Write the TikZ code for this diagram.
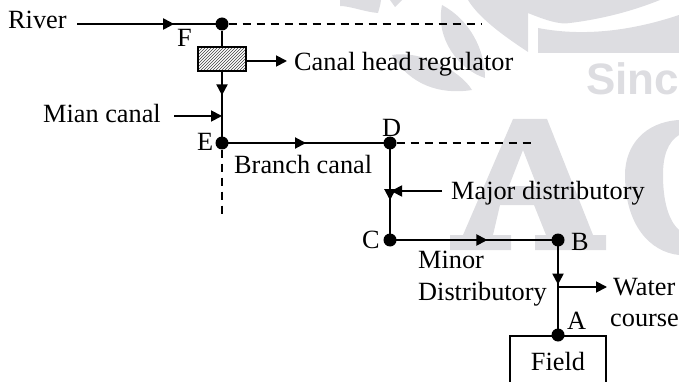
\documentclass[tikz,border=0pt]{standalone}
\usepackage{fontspec}
\setmainfont{Liberation Serif}
\newfontfamily\wmfont{Liberation Sans}
\usetikzlibrary{arrows.meta,decorations.markings,patterns}
\definecolor{wm}{HTML}{DDDDE1}
\tikzset{
  x=1pt,y=-1pt,
  lab/.style={anchor=base west,inner sep=0pt,font=\fontsize{26.3}{30}\selectfont},
  dotn/.style={circle,fill=black,inner sep=0pt,minimum size=13pt},
  line/.style={line width=2pt},
  dashline/.style={line width=1.6pt,dash pattern=on 8pt off 6pt},
  tip/.style={line width=1.8pt,-{Triangle[length=11pt,width=11pt]}},
  midtip/.style={line width=2pt,postaction=decorate,decoration={markings,mark=at position #1 with {\arrow{Triangle[length=11pt,width=11pt]}}}},
  boxn/.style={draw,line width=1.8pt,inner sep=0pt}
}
\begin{document}
\begin{tikzpicture}
\useasboundingbox (0,0) rectangle (679,382);
% watermark
\fill[wm] (340,0) -- (381,0) .. controls (380,8) and (378,12) .. (378,13) .. controls (365,12) and (350,6) .. (340,6) -- cycle;
\fill[wm] (390,0) -- (402,0) -- (395,7) -- cycle;
\fill[wm] (468,0) .. controls (480,20) and (510,40) .. (528,52) -- (528,13) .. controls (545,20) and (560,25) .. (570,23) .. controls (610,18) and (640,8) .. (660,0) -- cycle;
\fill[wm] (538,28) .. controls (590,38) and (640,28) .. (679,15) -- (679,53) -- (538,53) -- cycle;
\fill[wm] (442,5) .. controls (470,20) and (485,50) .. (485,78) .. controls (460,70) and (435,40) .. (442,5) -- cycle;
\fill[wm] (392,55) .. controls (420,50) and (460,70) .. (472,90) .. controls (440,95) and (410,85) .. (392,55) -- cycle;
\node[anchor=base west,inner sep=0pt,text=wm,font=\fontsize{44}{44}\selectfont\wmfont\bfseries] (since) at (586,95) {Sinc};
\fill[wm,even odd rule] (513,119) -- (547,119) -- (593,235) -- (606,235) -- (606,250) -- (535,250) -- (535,235) -- (546,235) -- (534,205) -- (500,205) -- (493,235) -- (511,235) -- (511,250) -- (450,250) -- (450,235) -- (463,235) -- cycle
  (523,150) -- (509,186) -- (537,186) -- cycle;
\fill[wm] (679,120) .. controls (645,122) and (625,145) .. (625,175) .. controls (625,225) and (650,252) .. (679,255) -- (679,230) .. controls (668,220) and (663,200) .. (663,175) .. controls (663,155) and (668,142) .. (679,135) -- cycle;
% nodes
\node[dotn] (F) at (222,24) {};
\node[dotn] (E) at (222,143) {};
\node[dotn] (D) at (390,143) {};
\node[dotn] (C) at (390,240) {};
\node[dotn] (B) at (558,240) {};
\node[dotn] (A) at (558,335) {};
\node[boxn,pattern=north east lines,pattern color=black!75,minimum width=48pt,minimum height=24pt] (reg) at (222,59) {};
\node[boxn,minimum width=96pt,minimum height=60pt,anchor=north] (field) at (558,335) {};
\node[lab,anchor=base] (fieldt) at (558,370) {Field};
\coordinate (riverS) at (77,24);
\coordinate (fd) at (481,24);
\coordinate (dd) at (535,143);
\coordinate (ed) at (222,216);
\coordinate (rt) at (287,61);
\coordinate (mc) at (174,116);
\coordinate (mce) at (222,116);
\coordinate (mj) at (442,191);
\coordinate (mje) at (391,191);
\coordinate (wcS) at (558,287);
\coordinate (wcE) at (607,287);
% connectors
\draw[midtip=0.67] (riverS) -- (F.center);
\draw[line] (F) -- (reg);
\draw[midtip=0.33] (reg.south) -- (E.center);
\draw[midtip=0.5] (E.center) -- (D.center);
\draw[midtip=0.59] (D.center) -- (C.center);
\draw[midtip=0.58] (C.center) -- (B.center);
\draw[midtip=0.47] (B.center) -- (A.center);
\draw[dashline] (F) -- (fd);
\draw[dashline] (D) -- (dd);
\draw[dashline] (E) -- (ed);
\draw[tip] (reg.east |- rt) -- (rt);
\draw[tip] (mc) -- (mce);
\draw[tip] (mj) -- (mje);
\draw[tip] (wcS) -- (wcE);
% labels
\node[lab] (tRiver) at (8,29) {River};
\node[lab] (tF) at (177,47) {F};
\node[lab] (tReg) at (294,71) {Canal head regulator};
\node[lab] (tMian) at (43,123) {Mian canal};
\node[lab] (tE) at (197,151) {E};
\node[lab] (tBranch) at (234,173) {Branch canal};
\node[lab] (tD) at (382,137) {D};
\node[lab] (tMajor) at (451,199) {Major distributory};
\node[lab] (tC) at (362,248) {C};
\node[lab] (tB) at (571,250) {B};
\node[lab] (tMinor) at (418,268) {Minor};
\node[lab] (tDist) at (418,300) {Distributory};
\node[lab] (tWater) at (613,295) {Water};
\node[lab] (tCourse) at (610,326) {course};
\node[lab] (tA) at (567,329) {A};
\end{tikzpicture}
\end{document}
